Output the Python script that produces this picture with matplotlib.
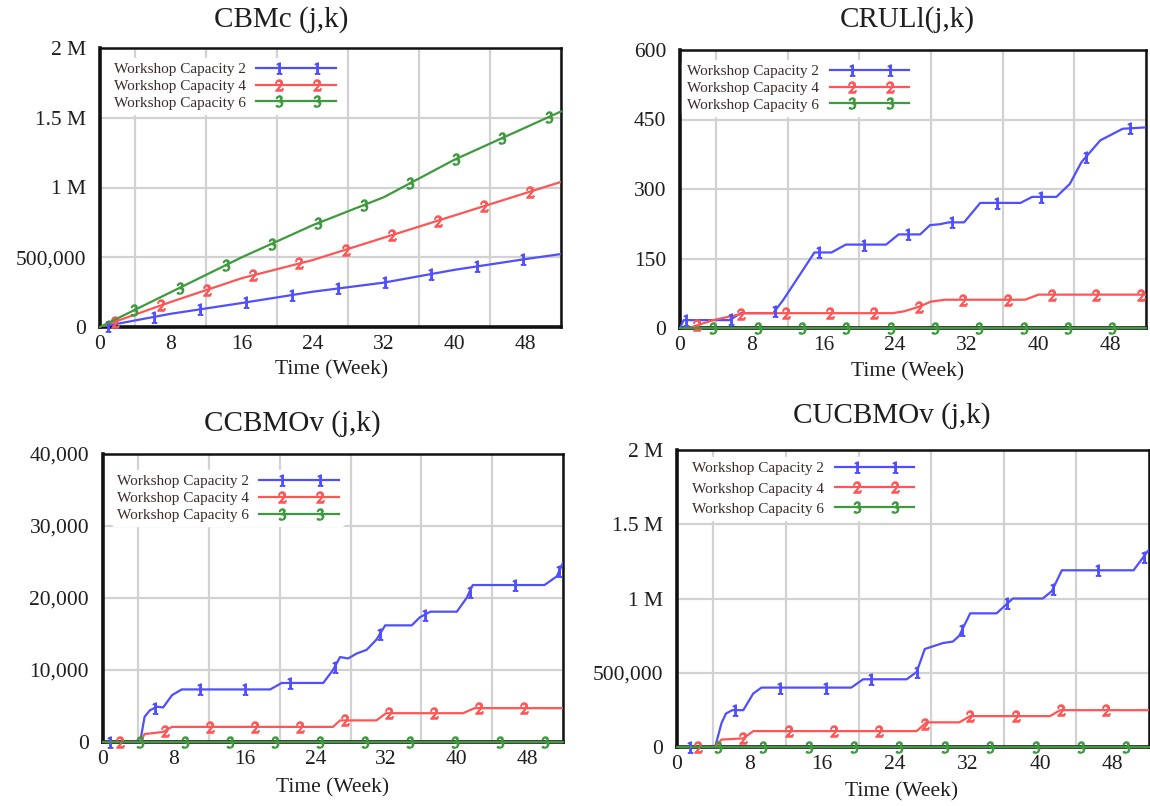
import numpy as np
import matplotlib
matplotlib.use("Agg")
import matplotlib.pyplot as plt
from matplotlib.ticker import FuncFormatter, MultipleLocator, FixedLocator
from matplotlib.legend_handler import HandlerBase
from matplotlib.lines import Line2D

plt.rcParams['font.family'] = ['Liberation Serif', 'DejaVu Serif']
plt.rcParams['mathtext.fontset'] = 'stix'

LABELS = ['Workshop Capacity 2', 'Workshop Capacity 4', 'Workshop Capacity 6']
TITLES = ['CBMc (j,k)', 'CRULl(j,k)', 'CCBMOv (j,k)', 'CUCBMOv (j,k)']
XTICKS = [0, 8, 16, 24, 32, 40, 48]

# ---- Panel 1: CBMc (j,k)
p1_weeks = [0, 8, 16, 24, 32, 40, 48, 52]
p1_cap2 = [0, 95000, 172000, 253000, 318000, 410000, 487000, 523000]
p1_cap4 = [0, 180000, 350000, 480000, 640000, 800000, 960000, 1040000]
p1_cap6 = [0, 250000, 500000, 730000, 930000, 1200000, 1430000, 1545000]

# ---- Panel 2: CRULl(j,k)
p2_cap2_w = [0, 0.4, 5.5, 6.8, 10.4, 11.5, 13, 15, 16.9, 18.5, 23, 24.4, 26.8, 27.9, 29, 30,
             31.7, 33.5, 38, 39.3, 42, 43.5, 44.8, 46.9, 49.4, 52]
p2_cap2_v = [0, 17, 17, 32, 32, 60, 104, 163, 163, 180, 180, 202, 202, 222, 224, 228,
             228, 270, 270, 283, 283, 311, 358, 405, 430, 433]
p2_cap4_w = [0, 1, 3.7, 6.3, 7.2, 23.7, 25, 26.7, 28, 29.6, 38.5, 40, 52]
p2_cap4_v = [0, 0, 17, 28, 32, 32, 36, 46, 57, 61, 61, 72, 72]
p2_cap6_w = [0, 52]
p2_cap6_v = [0, 0]

# ---- Panel 3: CCBMOv (j,k)
p3_cap2_w = [0, 4.2, 4.7, 5.3, 6.1, 6.8, 7.8, 8.9, 18.9, 20.2, 24.9, 26.0, 26.8, 27.7, 28.7,
             29.8, 30.9, 31.9, 34.9, 35.8, 37.0, 40.0, 41.1, 41.8, 49.9, 51.3, 52]
p3_cap2_v = [0, 0, 3500, 4400, 4900, 4800, 6500, 7300, 7300, 8200, 8200, 10000, 11800, 11600, 12300,
             12800, 14200, 16200, 16200, 17300, 18100, 18100, 20000, 21800, 21800, 23000, 24900]
p3_cap4_w = [0, 4.2, 4.7, 6.8, 7.8, 26, 26.8, 30.9, 32, 40.7, 42, 52]
p3_cap4_v = [0, 0, 1100, 1400, 2100, 2100, 3000, 3000, 4000, 4000, 4700, 4700]
p3_cap6_w = [0, 52]
p3_cap6_v = [0, 0]

# ---- Panel 4: CUCBMOv (j,k)
p4_cap2_w = [0, 4.2, 4.9, 5.4, 6.1, 7.3, 8.4, 9.3, 19.2, 20.5, 25.3, 26.4, 27.3, 29.3, 30.4,
             31.1, 32.3, 35.2, 37.0, 40.3, 41.3, 42.4, 50.3, 52]
p4_cap2_v = [0, 0, 160000, 226000, 248000, 248000, 360000, 400000, 400000, 456000, 456000, 505000,
             660000, 700000, 710000, 750000, 900000, 900000, 1000000, 1000000, 1050000, 1190000,
             1190000, 1330000]
p4_cap4_w = [0, 4.2, 4.9, 7.3, 8.4, 26.4, 27.5, 31.1, 32.3, 41.1, 42.2, 52]
p4_cap4_v = [0, 0, 50000, 58000, 107000, 107000, 166000, 166000, 208000, 208000, 248000, 248000]
p4_cap6_w = [0, 52]
p4_cap6_v = [0, 0]

W, H = 1150, 806
COLORS = ['#4f4fff', '#ff5555', '#3d9a3d']
MARKS = ['$1$', '$2$', '$3$']
MS = 8

# pixel boxes (left, right, top, bottom)
boxes = [(100, 561, 48, 327), (680, 1146, 50, 328), (103, 563, 454, 742), (677, 1149, 450, 747)]
title_pos = [(281, 20), (907, 20), (292, 424), (892, 416)]
xlabel_pos = [(332, 370), (908, 372), (333, 788), (902, 792)]
ymax = [2_000_000, 600, 40_000, 2_000_000]
ystep = [500_000, 150, 10_000, 500_000]
mark_start = [(0.9, 1.7, 3.8), (0.7, 1.9, 3.7), (0.8, 1.9, 4.2), (1.4, 2.3, 4.5)]
mark_step = [5.2, 4.95, 5.08, 5.0]
leg_anchor = [(0.02, 0.964), (0.005, 0.964), (0.02, 0.944), (0.022, 0.976)]
leg_spacing = [0.2, 0.2, 0.2, 0.42]

series = [
    [(p1_weeks, p1_cap2), (p1_weeks, p1_cap4), (p1_weeks, p1_cap6)],
    [(p2_cap2_w, p2_cap2_v), (p2_cap4_w, p2_cap4_v), (p2_cap6_w, p2_cap6_v)],
    [(p3_cap2_w, p3_cap2_v), (p3_cap4_w, p3_cap4_v), (p3_cap6_w, p3_cap6_v)],
    [(p4_cap2_w, p4_cap2_v), (p4_cap4_w, p4_cap4_v), (p4_cap6_w, p4_cap6_v)],
]


def yfmt(v, pos):
    if abs(v) < 1e-9:
        return '0'
    if v >= 1_000_000:
        return f'{v / 1e6:g} M'
    return f'{v:,.0f}'


class LineMarkHandler(HandlerBase):
    """Full-length line with two markers inset along it (Vensim style)."""
    def create_artists(self, legend, orig_handle, xdescent, ydescent, width, height,
                       fontsize, trans):
        yc = height / 2 - ydescent
        x0 = -xdescent
        line = Line2D([x0, x0 + width], [yc, yc], color=orig_handle.get_color(),
                      lw=orig_handle.get_linewidth())
        mk = Line2D([x0 + 0.28 * width, x0 + 0.76 * width], [yc, yc], ls='none',
                    marker=orig_handle.get_marker(), ms=orig_handle.get_markersize(),
                    color=orig_handle.get_color())
        line.set_transform(trans)
        mk.set_transform(trans)
        return [line, mk]


fig = plt.figure(figsize=(W / 100, H / 100), dpi=100)
TXT = '#1e1e1e'

for i in range(4):
    l, r, t, b = boxes[i]
    ax = fig.add_axes([l / W, 1 - b / H, (r - l) / W, (b - t) / H])
    ax.set_xlim(0, 52)
    ax.set_ylim(0, ymax[i])
    ax.xaxis.set_major_locator(FixedLocator(XTICKS))
    ax.xaxis.set_minor_locator(MultipleLocator(4))
    ax.yaxis.set_major_locator(MultipleLocator(ystep[i]))
    ax.yaxis.set_major_formatter(FuncFormatter(yfmt))
    ax.grid(False)
    ax.grid(True, which='minor', axis='x', color='#d2d2d2', lw=1.6)
    ax.grid(True, which='major', axis='y', color='#d2d2d2', lw=1.6)
    ax.tick_params(axis='both', which='both', length=0, labelsize=15.5, colors=TXT)
    ax.tick_params(axis='x', pad=6)
    ax.tick_params(axis='y', pad=10)
    for s in ax.spines.values():
        s.set_color('#111111')
        s.set_linewidth(1.8)
    ax.spines['left'].set_linewidth(2.6)
    ax.spines['bottom'].set_linewidth(2.6)
    ax.set_axisbelow(True)

    handles = []
    for k, (xw, yv) in enumerate(series[i]):
        z = 4 if k == 2 else 3
        ax.plot(xw, yv, color=COLORS[k], lw=1.6, zorder=z, clip_on=(k != 2),
                solid_joinstyle='round')
        mw = np.arange(mark_start[i][k], 52.2, mark_step[i])
        my = np.interp(mw, xw, yv)
        ax.plot(mw, my, ls='none', marker=MARKS[k], ms=MS, color=COLORS[k], zorder=z + 1,
                clip_on=False)
        handles.append(Line2D([], [], color=COLORS[k], lw=1.6, marker=MARKS[k], ms=MS))

    leg = ax.legend(handles, LABELS, loc='upper left', bbox_to_anchor=leg_anchor[i],
                    frameon=True, fontsize=11, markerfirst=False, handlelength=5.2,
                    handletextpad=0.7, labelspacing=leg_spacing[i], borderpad=0.3,
                    borderaxespad=0.0, handler_map={Line2D: LineMarkHandler()})
    fr = leg.get_frame()
    fr.set_facecolor('white')
    fr.set_edgecolor('white')
    fr.set_alpha(1)
    for tx in leg.get_texts():
        tx.set_color('#3a2a2a')

    fig.text(title_pos[i][0] / W, 1 - title_pos[i][1] / H, TITLES[i], fontsize=21,
             ha='center', va='center', color=TXT)
    fig.text(xlabel_pos[i][0] / W, 1 - xlabel_pos[i][1] / H, 'Time (Week)', fontsize=15.5,
             ha='center', va='center', color=TXT)

fig.savefig('out.png', dpi=100)
